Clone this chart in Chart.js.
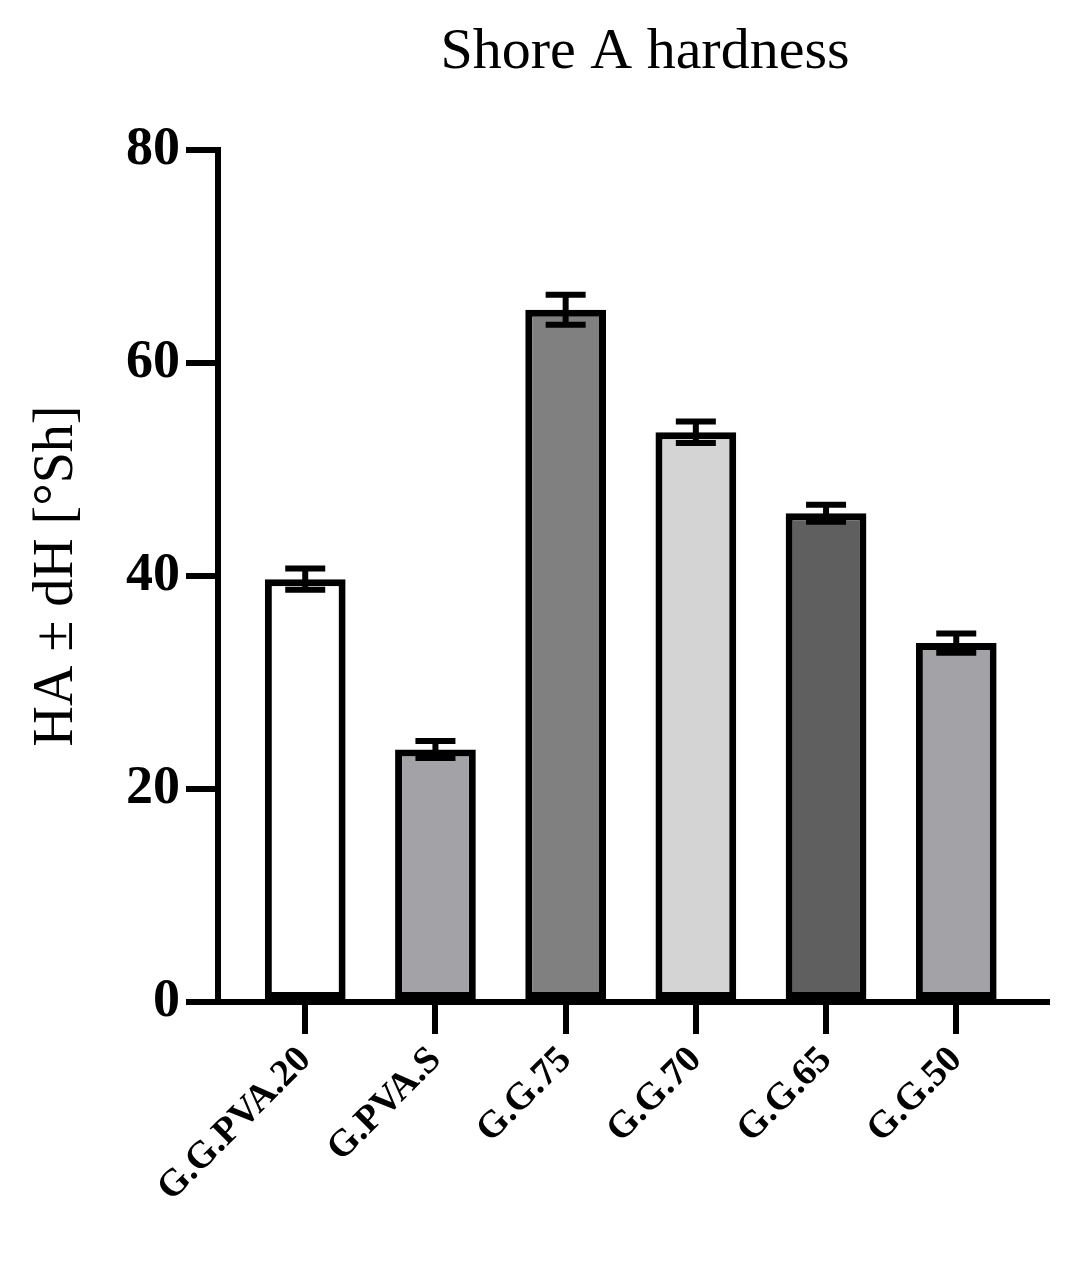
<!DOCTYPE html>
<html>
<head>
<meta charset="utf-8">
<script src="https://cdn.jsdelivr.net/npm/chart.js@4/dist/chart.umd.min.js"></script>
<style>
  body { margin: 0; background: #fff; }
  #wrap { width: 1069px; height: 1271px; }
</style>
</head>
<body>
<div id="wrap"><canvas id="c"></canvas></div>
<script>
const labels = ["G.G.PVA.20", "G.PVA.S", "G.G.75", "G.G.70", "G.G.65", "G.G.50"];
const values = [39.7, 23.7, 65.0, 53.5, 45.9, 33.7];
const errors = [1.0, 0.8, 1.4, 1.0, 0.8, 0.9];
const colors = ["#ffffff", "#a3a2a7", "#808080", "#d4d4d4", "#5f5f5f", "#a3a2a7"];
const yTicks = [0, 20, 40, 60, 80];
const titleText = "Shore A hardness";

const serif = "'Liberation Serif', 'DejaVu Serif', serif";

// error bars, extended x axis line and title
const errorBars = {
  id: "errorBars",
  afterDatasetsDraw(chart) {
    const ctx = chart.ctx, xs = chart.scales.x, ys = chart.scales.y;
    ctx.save();
    ctx.strokeStyle = "#000";
    ctx.lineWidth = 6;
    values.forEach((v, i) => {
      const x = xs.getPixelForValue(i);
      const top = ys.getPixelForValue(v + errors[i]);
      const bot = ys.getPixelForValue(v - errors[i]);
      ctx.beginPath();
      ctx.moveTo(x, top); ctx.lineTo(x, bot);
      ctx.moveTo(x - 20, top); ctx.lineTo(x + 20, top);
      ctx.moveTo(x - 20, bot); ctx.lineTo(x + 20, bot);
      ctx.stroke();
    });
    const ca = chart.chartArea;
    ctx.beginPath();
    ctx.moveTo(ca.left - 28, ys.getPixelForValue(0));
    ctx.lineTo(ca.right, ys.getPixelForValue(0));
    ctx.stroke();
    ctx.fillStyle = "#000";
    ctx.font = "58px " + serif;
    ctx.textAlign = "center";
    ctx.textBaseline = "alphabetic";
    ctx.fillText(titleText, 645, 68);
    ctx.restore();
  }
};

new Chart(document.getElementById("c"), {
  type: "bar",
  data: {
    datasets: [{
      data: values.map((v, i) => ({ x: i, y: v })),
      backgroundColor: colors,
      borderColor: "#000",
      borderWidth: 7,
      borderSkipped: false,
      barPercentage: 0.62,
      categoryPercentage: 1
    }]
  },
  plugins: [errorBars],
  options: {
    responsive: true,
    maintainAspectRatio: false,
    animation: false,
    layout: { padding: { left: 20, right: 19, top: 150, bottom: 10 } },
    plugins: {
      legend: { display: false },
      tooltip: { enabled: false },
      title: { display: false }
    },
    scales: {
      x: {
        type: "linear",
        offset: false,
        min: -0.67,
        max: 5.72,
        afterBuildTicks(scale) {
          scale.ticks = labels.map((l, i) => ({ value: i }));
        },
        ticks: {
          callback: (v) => labels[v],
          color: "#000",
          font: { family: serif, size: 38, weight: "bold" },
          maxRotation: 45,
          minRotation: 45,
          padding: 4
        },
        grid: { offset: false, drawOnChartArea: false, color: "#000", lineWidth: 6, tickLength: 32 },
        border: { display: false },
        afterFit(scale) { scale.height = 259; }
      },
      y: {
        min: 0,
        max: 80,
        afterBuildTicks(scale) {
          scale.ticks = yTicks.map(v => ({ value: v }));
        },
        ticks: {
          color: "#000",
          font: { family: serif, size: 54, weight: "bold" },
          padding: 6
        },
        grid: { drawOnChartArea: false, color: "#000", lineWidth: 6, tickLength: 32 },
        border: { color: "#000", width: 6 },
        title: {
          display: true,
          text: "HA ± dH [°Sh]",
          color: "#000",
          font: { family: serif, size: 56, weight: "normal" },
          padding: { bottom: 4 }
        },
        afterFit(scale) { scale.width = 198; }
      }
    }
  }
});
</script>
</body>
</html>
